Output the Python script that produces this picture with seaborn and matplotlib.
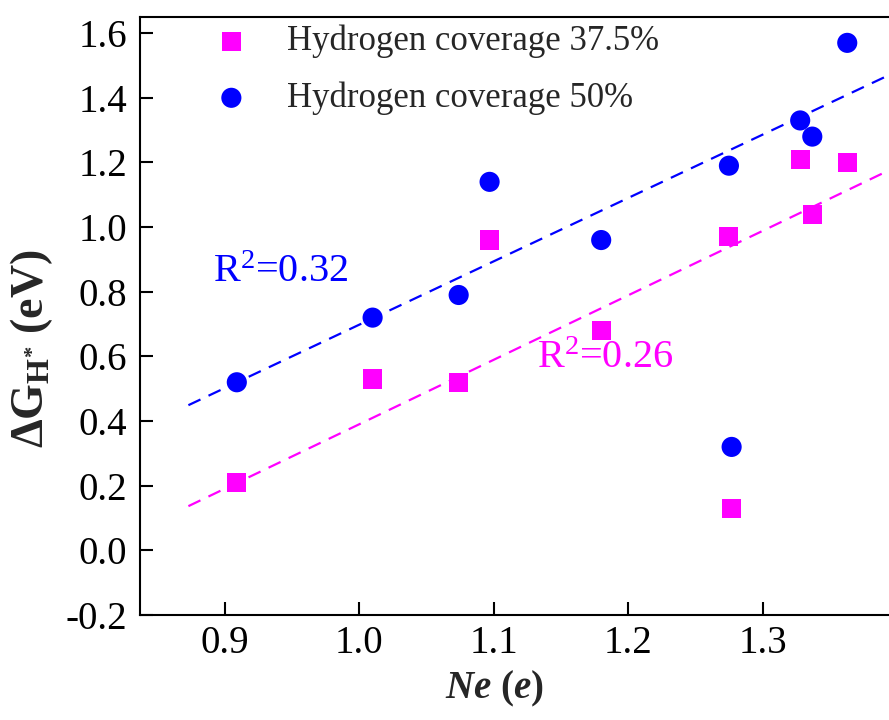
import numpy as np
import pandas as pd
import matplotlib
matplotlib.use("Agg")
import matplotlib.pyplot as plt
from matplotlib.ticker import FormatStrFormatter
import seaborn as sns

# Number of electrons vs. hydrogen adsorption free energy
ne_375 = [0.909, 1.010, 1.074, 1.097, 1.180, 1.275, 1.328, 1.337, 1.363, 1.277]
dg_375 = [0.21, 0.53, 0.52, 0.96, 0.68, 0.97, 1.21, 1.04, 1.20, 0.13]

ne_50 = [0.909, 1.010, 1.074, 1.097, 1.180, 1.275, 1.328, 1.337, 1.363, 1.277]
dg_50 = [0.52, 0.72, 0.79, 1.14, 0.96, 1.19, 1.33, 1.28, 1.57, 0.32]

labels = ["Hydrogen coverage 37.5%", "Hydrogen coverage 50%"]
colors = ["#FF00FF", "#0000FF"]

# linear trend lines (slope, intercept) and their R^2 labels
fit_375 = (1.994, -1.604)
fit_50 = (1.960, -1.262)
fit_x = [0.873, 1.40]
r2_text = ["R$^2$=0.26", "R$^2$=0.32"]
r2_pos = [(1.132, 0.564), (0.891, 0.830)]

xticks = [0.9, 1.0, 1.1, 1.2, 1.3]
yticks = [-0.2, 0.0, 0.2, 0.4, 0.6, 0.8, 1.0, 1.2, 1.4, 1.6]

sns.set_style("ticks")
plt.rcParams["font.family"] = ["Liberation Serif", "DejaVu Serif"]
plt.rcParams["mathtext.fontset"] = "custom"
plt.rcParams["mathtext.rm"] = "Liberation Serif"
plt.rcParams["mathtext.it"] = "Liberation Serif:italic:bold"
plt.rcParams["mathtext.bf"] = "Liberation Serif:bold"
plt.rcParams["axes.unicode_minus"] = False

fig = plt.figure(figsize=(8.89, 7.2), dpi=100)
ax = fig.add_axes([140 / 889, 105 / 720, 757 / 889, 598 / 720])

df = pd.DataFrame({
    "ne": ne_375 + ne_50,
    "dg": dg_375 + dg_50,
    "coverage": [labels[0]] * len(ne_375) + [labels[1]] * len(ne_50),
})

# trend lines beneath the markers
fx = np.array(fit_x)
for (m, b), c in zip([fit_375, fit_50], colors):
    ax.plot(fx, m * fx + b, color=c, lw=1.6, dashes=(6, 4), zorder=1)

sns.scatterplot(data=df[df.coverage == labels[0]], x="ne", y="dg", marker="s",
                color=colors[0], s=190, edgecolor="none", linewidth=0,
                label=labels[0], legend=False, ax=ax, zorder=3)
sns.scatterplot(data=df[df.coverage == labels[1]], x="ne", y="dg", marker="o",
                color=colors[1], s=210, edgecolor="none", linewidth=0,
                label=labels[1], legend=False, ax=ax, zorder=3)

for t, (x, y), c in zip(r2_text, r2_pos, colors):
    ax.text(x, y, t, color=c, fontsize=29, ha="left", va="baseline")

ax.set_xlim(0.837, 1.40)
ax.set_ylim(-0.2, 1.65)
ax.set_xticks(xticks)
ax.set_yticks(yticks)
ax.xaxis.set_major_formatter(FormatStrFormatter("%.1f"))
ax.yaxis.set_major_formatter(FormatStrFormatter("%.1f"))
ax.tick_params(direction="in", length=9.5, width=1.5, labelsize=28,
               colors="black")
ax.tick_params(axis="y", pad=9)
ax.tick_params(axis="x", pad=7)
for sp in ax.spines.values():
    sp.set_linewidth(1.5)
    sp.set_color("black")

ax.set_xlabel(r"$\mathit{Ne}$ $\mathbf{(}\mathit{e}\mathbf{)}$", fontsize=28)
ax.xaxis.set_label_coords((494 - 140) / 757, -0.09)
ax.set_ylabel(r"ΔG$_{\mathbf{H^{*}}}$ (eV)", fontsize=33, fontweight="bold")
ax.yaxis.set_label_coords(-0.112, 0.445)

handles, lbls = ax.get_legend_handles_labels()
ax.legend(handles, lbls, loc="upper left", bbox_to_anchor=(214 / 889, 695 / 720),
          bbox_transform=fig.transFigure, frameon=False, fontsize=25,
          handlelength=1.0, handletextpad=1.1, labelspacing=0.66,
          borderpad=0, borderaxespad=0, scatterpoints=1)

fig.savefig("out.png", dpi=100, facecolor="white")
